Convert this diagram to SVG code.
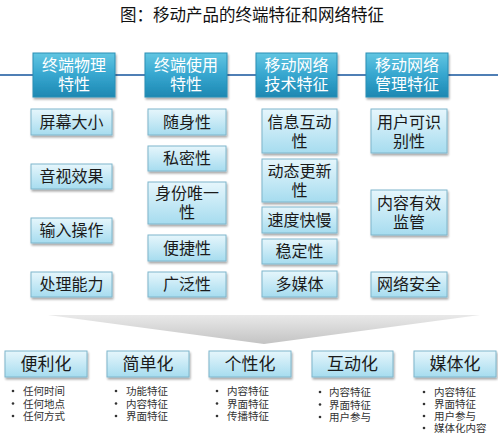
<svg xmlns="http://www.w3.org/2000/svg" width="498" height="436" viewBox="0 0 498 436">
<defs>
<linearGradient id="hg" x1="0" y1="0" x2="0" y2="1">
<stop offset="0" stop-color="#62c6e2"/>
<stop offset="0.5" stop-color="#36a6cf"/>
<stop offset="1" stop-color="#1d88b2"/>
</linearGradient>
<linearGradient id="sg" x1="0" y1="0" x2="0" y2="1">
<stop offset="0" stop-color="#e6f6fc"/>
<stop offset="1" stop-color="#a6dcef"/>
</linearGradient>
<linearGradient id="fg" x1="0" y1="0" x2="0" y2="1">
<stop offset="0" stop-color="#e9e9e9"/>
<stop offset="1" stop-color="#c3c3c3"/>
</linearGradient>
<filter id="sh" x="-10%" y="-10%" width="125%" height="135%">
<feGaussianBlur in="SourceAlpha" stdDeviation="1.2"/>
<feOffset dx="1" dy="2" result="b"/>
<feComponentTransfer><feFuncA type="linear" slope="0.35"/></feComponentTransfer>
<feMerge><feMergeNode/><feMergeNode in="SourceGraphic"/></feMerge>
</filter>
</defs>
<style>
text{font-family:"Noto Sans CJK SC","Liberation Sans",sans-serif;}
.title{font-size:16.5px;fill:#111;text-anchor:middle;}
.hb{fill:url(#hg);stroke:#2a8fb5;stroke-width:1;filter:url(#sh);}
.ht{font-size:16px;fill:#ffffff;text-anchor:middle;}
.sb{fill:url(#sg);stroke:#7fb6cb;stroke-width:1;filter:url(#sh);}
.st{font-size:16px;fill:#1a1a1a;text-anchor:middle;}
.bt{font-size:17px;fill:#1a1a1a;text-anchor:middle;}
.li{font-size:10.5px;fill:#333;}
.dot{fill:#333;}
.conn{stroke:#4f7fb5;stroke-width:2;fill:none;}
</style>
<text class="title" x="252" y="21">图：移动产品的终端特征和网络特征</text>
<g id="connectors">
<line class="conn" x1="0" y1="75" x2="498" y2="75"/>
<path d="M48,315 L480,315 L264,344 Z" fill="url(#fg)"/>
</g>
<g id="h1"><rect class="hb" x="33" y="53" width="82" height="44"/><text class="ht" x="74" y="70.5">终端物理<tspan x="74" dy="19">特性</tspan></text></g>
<g id="h2"><rect class="hb" x="145" y="53" width="82" height="44"/><text class="ht" x="186" y="70.5">终端使用<tspan x="186" dy="19">特性</tspan></text></g>
<g id="h3"><rect class="hb" x="256" y="53" width="81" height="44"/><text class="ht" x="296.5" y="70.5">移动网络<tspan x="296.5" dy="19">技术特征</tspan></text></g>
<g id="h4"><rect class="hb" x="366" y="53" width="82" height="44"/><text class="ht" x="407" y="70.5">移动网络<tspan x="407" dy="19">管理特征</tspan></text></g>

<g id="c1a"><rect class="sb" x="31" y="109" width="81" height="26"/><text class="st" x="71.5" y="127.5">屏幕大小</text></g>
<g id="c1b"><rect class="sb" x="31" y="164" width="81" height="25"/><text class="st" x="71.5" y="182">音视效果</text></g>
<g id="c1c"><rect class="sb" x="31" y="218" width="81" height="25"/><text class="st" x="71.5" y="236">输入操作</text></g>
<g id="c1d"><rect class="sb" x="31" y="272" width="81" height="25"/><text class="st" x="71.5" y="290">处理能力</text></g>

<g id="c2a"><rect class="sb" x="148" y="109" width="78" height="26"/><text class="st" x="187" y="127.5">随身性</text></g>
<g id="c2b"><rect class="sb" x="148" y="146" width="78" height="25"/><text class="st" x="187" y="164">私密性</text></g>
<g id="c2c"><rect class="sb" x="148" y="182" width="78" height="42"/><text class="st" x="187" y="199">身份唯一<tspan x="187" dy="18.5">性</tspan></text></g>
<g id="c2d"><rect class="sb" x="148" y="235" width="78" height="26"/><text class="st" x="187" y="253.5">便捷性</text></g>
<g id="c2e"><rect class="sb" x="148" y="272" width="78" height="25"/><text class="st" x="187" y="290">广泛性</text></g>

<g id="c3a"><rect class="sb" x="262" y="109" width="75" height="44"/><text class="st" x="299.5" y="127.5">信息互动<tspan x="299.5" dy="19">性</tspan></text></g>
<g id="c3b"><rect class="sb" x="262" y="159" width="75" height="43"/><text class="st" x="299.5" y="177">动态更新<tspan x="299.5" dy="18.5">性</tspan></text></g>
<g id="c3c"><rect class="sb" x="262" y="207" width="75" height="26"/><text class="st" x="299.5" y="225.5">速度快慢</text></g>
<g id="c3d"><rect class="sb" x="262" y="239" width="75" height="25"/><text class="st" x="299.5" y="257">稳定性</text></g>
<g id="c3e"><rect class="sb" x="262" y="271" width="75" height="26"/><text class="st" x="299.5" y="289.5">多媒体</text></g>

<g id="c4a"><rect class="sb" x="371" y="109" width="76" height="44"/><text class="st" x="409" y="127.5">用户可识<tspan x="409" dy="19">别性</tspan></text></g>
<g id="c4b"><rect class="sb" x="371" y="190" width="76" height="45"/><text class="st" x="409" y="208.5">内容有效<tspan x="409" dy="19">监管</tspan></text></g>
<g id="c4c"><rect class="sb" x="371" y="272" width="76" height="25"/><text class="st" x="409" y="290">网络安全</text></g>

<g id="b1"><rect class="sb" x="5" y="351" width="82" height="26"/><text class="bt" x="46" y="370">便利化</text>
<circle class="dot" cx="13" cy="391" r="1.3"/><circle class="dot" cx="13" cy="403.5" r="1.3"/><circle class="dot" cx="13" cy="416" r="1.3"/>
<text class="li" x="23" y="395">任何时间<tspan x="23" dy="12.5">任何地点</tspan><tspan x="23" dy="12.5">任何方式</tspan></text></g>
<g id="b2"><rect class="sb" x="107" y="351" width="82" height="26"/><text class="bt" x="148" y="370">简单化</text>
<circle class="dot" cx="116" cy="391" r="1.3"/><circle class="dot" cx="116" cy="403.5" r="1.3"/><circle class="dot" cx="116" cy="416" r="1.3"/>
<text class="li" x="126" y="395">功能特征<tspan x="126" dy="12.5">内容特征</tspan><tspan x="126" dy="12.5">界面特征</tspan></text></g>
<g id="b3"><rect class="sb" x="209" y="351" width="82" height="26"/><text class="bt" x="250" y="370">个性化</text>
<circle class="dot" cx="217" cy="391" r="1.3"/><circle class="dot" cx="217" cy="403.5" r="1.3"/><circle class="dot" cx="217" cy="416" r="1.3"/>
<text class="li" x="227" y="395">内容特征<tspan x="227" dy="12.5">界面特征</tspan><tspan x="227" dy="12.5">传播特征</tspan></text></g>
<g id="b4"><rect class="sb" x="312" y="351" width="81" height="26"/><text class="bt" x="352.5" y="370">互动化</text>
<circle class="dot" cx="320" cy="392" r="1.3"/><circle class="dot" cx="320" cy="404.5" r="1.3"/><circle class="dot" cx="320" cy="417" r="1.3"/>
<text class="li" x="329" y="396">内容特征<tspan x="329" dy="12.5">界面特征</tspan><tspan x="329" dy="12.5">用户参与</tspan></text></g>
<g id="b5"><rect class="sb" x="414" y="351" width="82" height="26"/><text class="bt" x="455" y="370">媒体化</text>
<circle class="dot" cx="424" cy="392" r="1.3"/><circle class="dot" cx="424" cy="404" r="1.3"/><circle class="dot" cx="424" cy="416" r="1.3"/><circle class="dot" cx="424" cy="428" r="1.3"/>
<text class="li" x="434" y="396">内容特征<tspan x="434" dy="12">界面特征</tspan><tspan x="434" dy="12">用户参与</tspan><tspan x="434" dy="12">媒体化内容</tspan></text></g>
</svg>
